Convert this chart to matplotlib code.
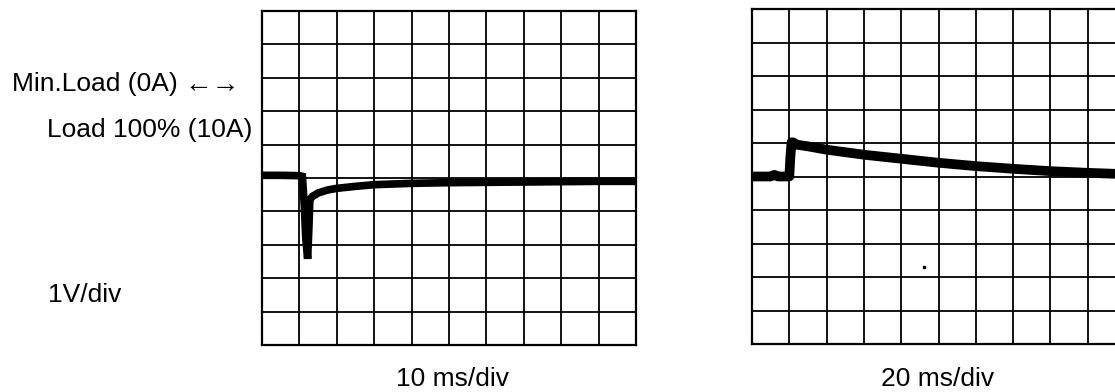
import numpy as np
import matplotlib
matplotlib.use("Agg")
import matplotlib.pyplot as plt

plt.rcParams["font.family"] = ["Liberation Sans", "DejaVu Sans"]

# traces in divisions (x: 0..10 div, y: 0..10 div)
left_x = [0, 0.5, 1.0, 1.08, 1.13, 1.17, 1.22, 1.25, 1.28, 1.35, 1.5, 1.75, 2.0, 2.5, 3.0, 4.0, 5.0, 6.0, 7.0, 8.0, 9.0, 10.0]
left_y = [5.08, 5.08, 5.07, 5.05, 4.2, 3.2, 2.58, 3.4, 4.35, 4.45, 4.55, 4.64, 4.69, 4.75, 4.8, 4.84, 4.86, 4.87, 4.88, 4.89, 4.9, 4.9]

right_x = [0, 0.5, 0.6, 0.7, 1.0, 1.03, 1.06, 1.1, 1.2, 1.5, 2, 3, 4, 5, 6, 7, 8, 9, 10]
right_y = [5.0, 5.0, 5.05, 5.0, 5.0, 5.6, 6.02, 6.02, 5.95, 5.9, 5.8, 5.65, 5.53, 5.41, 5.31, 5.23, 5.16, 5.11, 5.07]

left_label = "10 ms/div"
right_label = "20 ms/div"

fig = plt.figure(figsize=(11.15, 3.92), dpi=100)
axl = fig.add_axes([262 / 1115, 47 / 392, 374 / 1115, 334 / 392])
axr = fig.add_axes([752 / 1115, 48 / 392, 373 / 1115, 335 / 392])

for ax in (axl, axr):
    ax.set_xlim(0, 10)
    ax.set_ylim(0, 10)
    ax.set_xticks(np.arange(0, 11))
    ax.set_yticks(np.arange(0, 11))
    ax.tick_params(length=0, labelbottom=False, labelleft=False)
    ax.grid(True, color="black", lw=1.3)
    for s in ax.spines.values():
        s.set_linewidth(1.6)

axl.plot(left_x, left_y, color="black", lw=5.5, solid_joinstyle="miter")
axr.plot(right_x, right_y, color="black", lw=7)
axr.plot([4.6], [2.3], "s", color="black", ms=1.5)

fs = 19
fig.text(12 / 1115, 1 - 91.5 / 392, "Min.Load (0A)", fontsize=fs, ha="left", va="baseline")
fig.text(212 / 1115, 1 - 85 / 392, "\u2190\u2192", fontsize=fs + 1, ha="center", va="center")
fig.text(252 / 1115, 1 - 137 / 392, "Load 100% (10A)", fontsize=fs, ha="right", va="baseline")
fig.text(48 / 1115, 1 - 301.5 / 392, "1V/div", fontsize=fs, ha="left", va="baseline")
fig.text(453 / 1115, 1 - 386.5 / 392, left_label, fontsize=fs, ha="center", va="baseline")
fig.text(938 / 1115, 1 - 386.5 / 392, right_label, fontsize=fs, ha="center", va="baseline")

fig.savefig("out.png", dpi=100)
